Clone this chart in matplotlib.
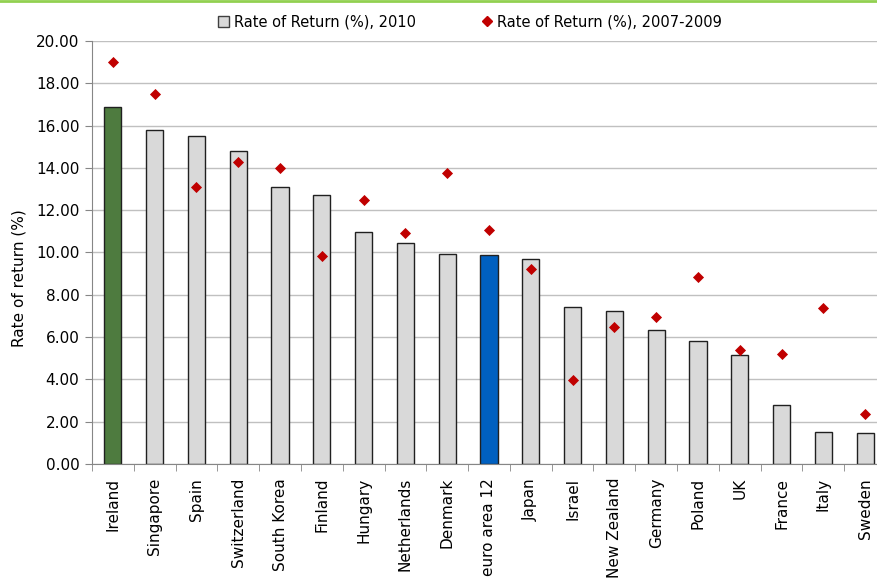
import numpy as np
import matplotlib
matplotlib.use('Agg')
import matplotlib.pyplot as plt
from matplotlib.lines import Line2D
from matplotlib.patches import Patch

countries = ['Ireland', 'Singapore', 'Spain', 'Switzerland', 'South Korea', 'Finland',
             'Hungary', 'Netherlands', 'Denmark', 'euro area 12', 'Japan', 'Israel',
             'New Zealand', 'Germany', 'Poland', 'UK', 'France', 'Italy', 'Sweden']
ret_2010 = [16.87, 15.78, 15.51, 14.80, 13.10, 12.73, 10.95, 10.43, 9.94, 9.88,
            9.71, 7.44, 7.22, 6.35, 5.82, 5.17, 2.79, 1.53, 1.48]
ret_0709 = [19.02, 17.49, 13.11, 14.29, 14.01, 9.82, 12.47, 10.91, 13.77, 11.06,
            9.24, 3.97, 6.49, 6.95, 8.83, 5.40, 5.19, 7.38, 2.35]

plt.rcParams['font.family'] = 'DejaVu Sans'

fig = plt.figure(figsize=(8.78, 5.79), dpi=100)
# plot area runs a little past the right edge, as in the original crop
ax = fig.add_axes([92/878, 1 - 464/579, (886 - 92)/878, (464 - 41)/579])

x = np.arange(len(countries))
colors = ['#D9D9D9'] * len(countries)
colors[0] = '#4E7B3F'
colors[countries.index('euro area 12')] = '#0060C0'

ax.bar(x, ret_2010, width=0.41, color=colors, edgecolor='#202020', linewidth=1.0, zorder=2)
ax.scatter(x, ret_0709, marker='D', s=32, color='#C00000', zorder=3, linewidths=0)

ax.set_xlim(-0.5, len(countries) - 0.5)
ax.set_ylim(0, 20)
ax.set_yticks(np.arange(0, 21, 2))
ax.set_yticklabels(['%.2f' % v for v in np.arange(0, 21, 2)], fontsize=11)
ax.yaxis.grid(True, color='#C0C0C0', linewidth=1.0, zorder=0)
ax.set_axisbelow(True)

ax.set_xticks(x)
ax.set_xticklabels(countries, rotation=90, fontsize=11)
ax.set_xticks(np.arange(-0.5, len(countries), 1), minor=True)
ax.tick_params(axis='x', which='major', length=0, pad=10)
ax.tick_params(axis='x', which='minor', length=5, color='#868686')
ax.tick_params(axis='y', length=5, color='#868686', pad=4)

for s in ['top', 'right']:
    ax.spines[s].set_visible(False)
for s in ['left', 'bottom']:
    ax.spines[s].set_color('#868686')

ax.set_ylabel('Rate of return (%)', fontsize=11)
ax.yaxis.set_label_coords(-0.083, 0.44)

handles = [Patch(facecolor='#D9D9D9', edgecolor='#404040', label='Rate of Return (%), 2010'),
           Line2D([], [], marker='D', linestyle='none', color='#C00000', markersize=5,
                  label='Rate of Return (%), 2007-2009')]
fig.legend(handles=handles, loc='center', bbox_to_anchor=(470/878, 1 - 22/579), ncol=2,
           frameon=False, fontsize=10.5, handlelength=0.8, handletextpad=0.3, columnspacing=4.5)

# green rule along the top
fig.add_artist(Line2D([0, 1], [1 - 1/579, 1 - 1/579], color='#92D050', linewidth=2))

fig.savefig('out.png', dpi=100)
